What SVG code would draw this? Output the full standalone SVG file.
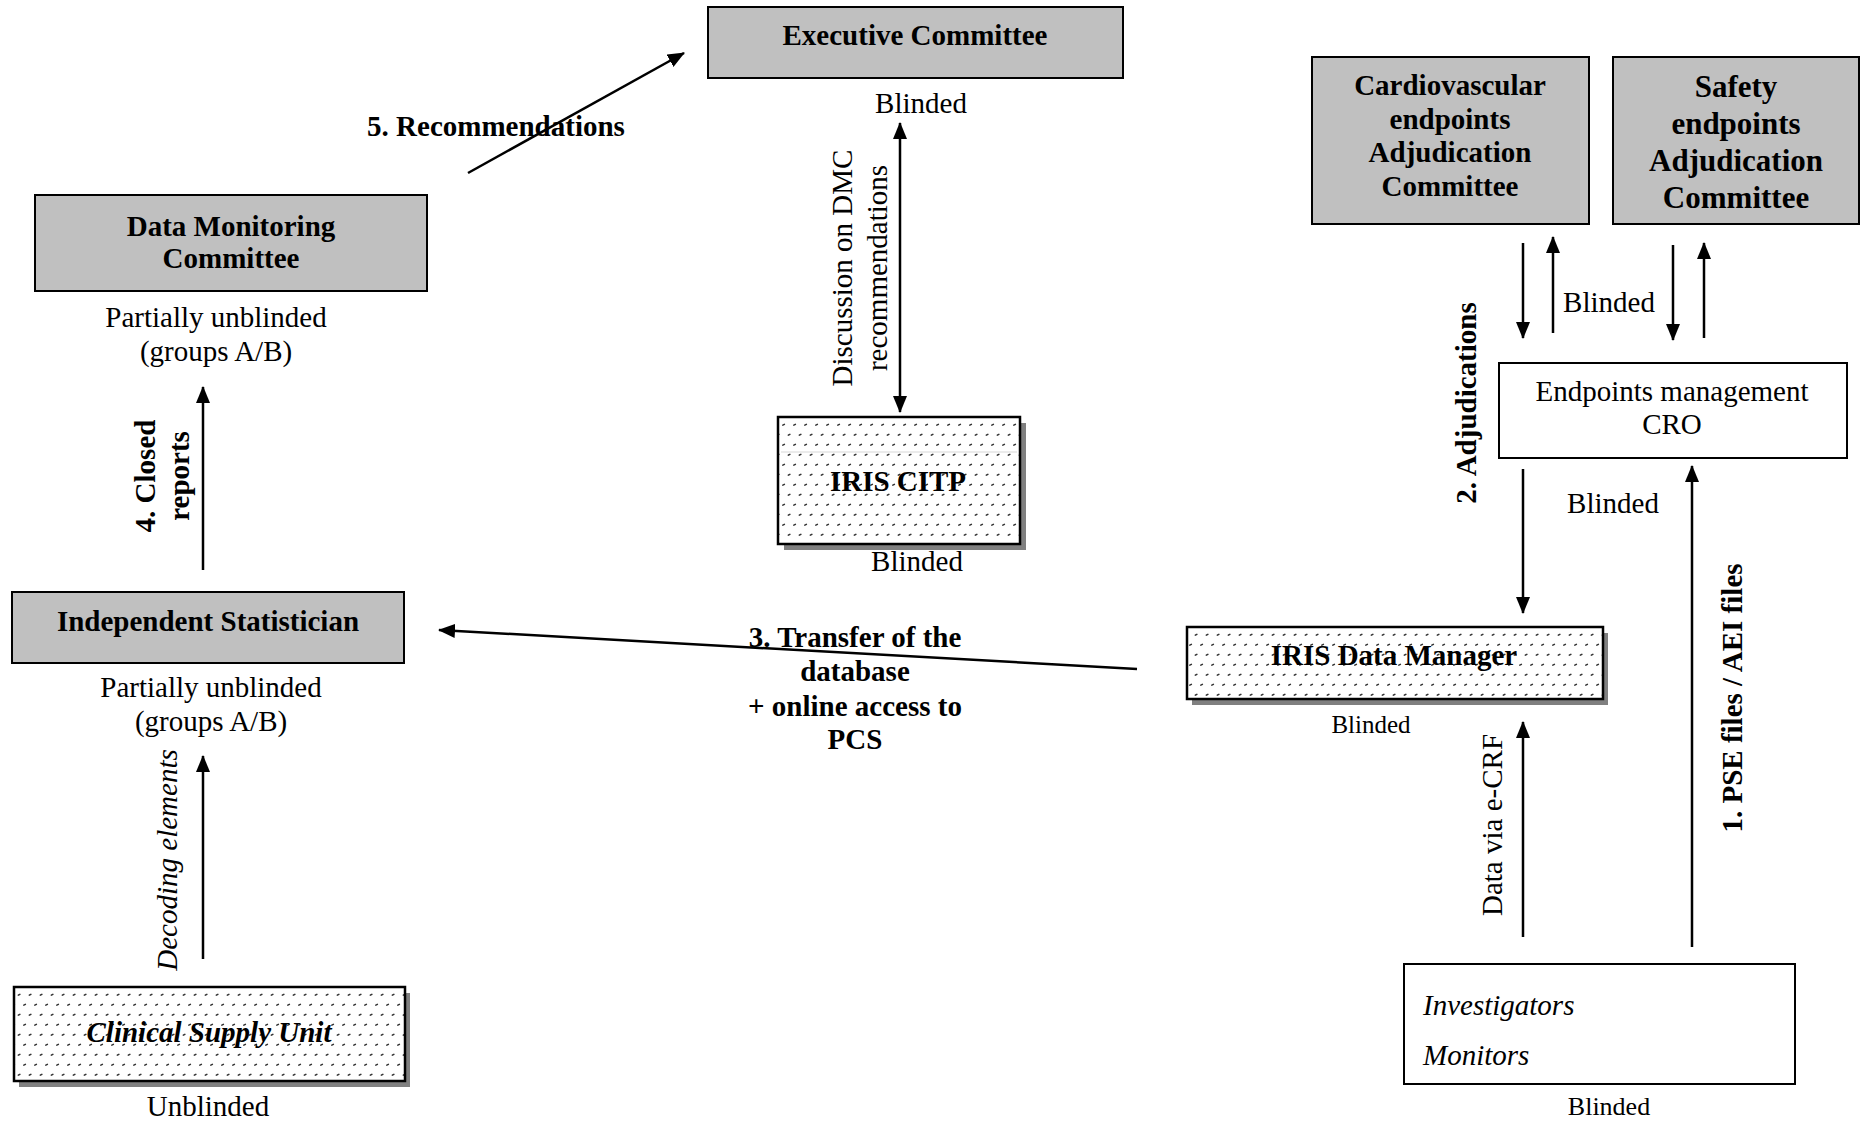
<svg xmlns="http://www.w3.org/2000/svg" width="1861" height="1123" viewBox="0 0 1861 1123">
<style>
text{font-family:"Liberation Serif","Times New Roman",serif;fill:#000}
.b{font-weight:bold;font-size:29px}
.r{font-size:29px}
.i{font-style:italic;font-size:29px}
.m{text-anchor:middle}
.gray{fill:#c0c0c0;stroke:#000;stroke-width:2}
.white{fill:#fff;stroke:#000;stroke-width:2}
.pat{fill:url(#dots);stroke:#000;stroke-width:2.5}
.sh{fill:#808080}
.c{stroke:#000;stroke-width:2.5;fill:none;marker-end:url(#ah)}
</style>
<defs>
<marker id="ah" markerUnits="userSpaceOnUse" markerWidth="18" markerHeight="14" refX="16" refY="7" orient="auto-start-reverse">
<path d="M0,0 L17,7 L0,14 z" fill="#000"/>
</marker>
<pattern id="dots" patternUnits="userSpaceOnUse" width="11" height="20">
<rect width="11" height="20" fill="#fff"/>
<path d="M1.8,5.2 l1.6,-0.9 M7.3,15.2 l1.6,-0.9" stroke="#333" stroke-width="1.5" stroke-linecap="round"/>
</pattern>
</defs>
<rect width="1861" height="1123" fill="#fff"/>

<g id="connectors">
<line class="c" x1="900" y1="123" x2="900" y2="412" style="marker-start:url(#ah)"/>
<line class="c" x1="468" y1="173" x2="684" y2="53"/>
<line class="c" x1="203" y1="570" x2="203" y2="387"/>
<line class="c" x1="203" y1="959" x2="203" y2="756"/>
<line class="c" x1="1137" y1="669" x2="439" y2="630"/>
<line class="c" x1="1523" y1="243" x2="1523" y2="338"/>
<line class="c" x1="1553" y1="333" x2="1553" y2="237"/>
<line class="c" x1="1673" y1="245" x2="1673" y2="340"/>
<line class="c" x1="1704" y1="338" x2="1704" y2="243"/>
<line class="c" x1="1523" y1="469" x2="1523" y2="613"/>
<line class="c" x1="1692" y1="947" x2="1692" y2="466"/>
<line class="c" x1="1523" y1="937" x2="1523" y2="722"/>
<text class="b m" x="496" y="136">5. Recommendations</text>
<text class="r m" transform="translate(852,268) rotate(-90)">Discussion on DMC</text>
<text class="r m" transform="translate(887,268) rotate(-90)">recommendations</text>
<text class="b m" transform="translate(155,476) rotate(-90)">4. Closed</text>
<text class="b m" transform="translate(189,476) rotate(-90)">reports</text>
<text class="i m" transform="translate(177,860) rotate(-90)">Decoding elements</text>
<text class="b m" x="855" y="647">3. Transfer of the</text>
<text class="b m" x="855" y="681">database</text>
<text class="b m" x="855" y="716">+ online access to</text>
<text class="b m" x="855" y="749">PCS</text>
<text class="b m" transform="translate(1476,403) rotate(-90)">2. Adjudications</text>
<text class="r m" x="1609" y="312">Blinded</text>
<text class="r m" x="1613" y="513">Blinded</text>
<text class="r m" transform="translate(1502,825) rotate(-90)">Data via e-CRF</text>
<text class="b m" transform="translate(1742,698) rotate(-90)">1. PSE files / AEI files</text>
</g>

<g id="executive-committee">
<rect class="gray" x="708" y="7" width="415" height="71"/>
<text class="b m" x="915" y="45">Executive Committee</text>
<text class="r m" x="921" y="113">Blinded</text>
</g>

<g id="data-monitoring-committee">
<rect class="gray" x="35" y="195" width="392" height="96"/>
<text class="b m" x="231" y="236">Data Monitoring</text>
<text class="b m" x="231" y="268">Committee</text>
<text class="r m" x="216" y="327">Partially unblinded</text>
<text class="r m" x="216" y="361">(groups A/B)</text>
</g>

<g id="iris-citp">
<rect class="sh" x="784" y="423" width="242" height="127"/>
<rect class="pat" x="778" y="417" width="242" height="127"/>
<line x1="781" y1="452" x2="1017" y2="452" stroke="#e4e4e4" stroke-width="1.5"/>
<text class="b m" x="898" y="491">IRIS CITP</text>
<text class="r m" x="917" y="571">Blinded</text>
</g>

<g id="cardiovascular-committee">
<rect class="gray" x="1312" y="57" width="277" height="167"/>
<text class="b m" x="1450" y="95">Cardiovascular</text>
<text class="b m" x="1450" y="129">endpoints</text>
<text class="b m" x="1450" y="162">Adjudication</text>
<text class="b m" x="1450" y="196">Committee</text>
</g>

<g id="safety-committee">
<rect class="gray" x="1613" y="57" width="246" height="167"/>
<text class="b m" x="1736" y="97" style="font-size:31px">Safety</text>
<text class="b m" x="1736" y="134" style="font-size:31px">endpoints</text>
<text class="b m" x="1736" y="171" style="font-size:31px">Adjudication</text>
<text class="b m" x="1736" y="208" style="font-size:31px">Committee</text>
</g>

<g id="endpoints-cro">
<rect class="white" x="1499" y="363" width="348" height="95"/>
<text class="r m" x="1672" y="401">Endpoints management</text>
<text class="r m" x="1672" y="434">CRO</text>
</g>

<g id="independent-statistician">
<rect class="gray" x="12" y="592" width="392" height="71"/>
<text class="b m" x="208" y="631">Independent Statistician</text>
<text class="r m" x="211" y="697">Partially unblinded</text>
<text class="r m" x="211" y="731">(groups A/B)</text>
</g>

<g id="iris-data-manager">
<rect class="sh" x="1192" y="633" width="416" height="72"/>
<rect class="pat" x="1187" y="627" width="416" height="72"/>
<text class="b m" x="1394" y="665">IRIS Data Manager</text>
<text class="r m" x="1371" y="733" style="font-size:25px">Blinded</text>
</g>

<g id="clinical-supply-unit">
<rect class="sh" x="19" y="993" width="391" height="94"/>
<rect class="pat" x="14" y="987" width="391" height="94"/>
<text class="b m" x="209" y="1042" style="font-style:italic">Clinical Supply Unit</text>
<text class="r m" x="208" y="1116">Unblinded</text>
</g>

<g id="investigators-monitors">
<rect class="white" x="1404" y="964" width="391" height="120"/>
<text class="i" x="1423" y="1015">Investigators</text>
<text class="i" x="1423" y="1065">Monitors</text>
<text class="r m" x="1609" y="1115" style="font-size:26px">Blinded</text>
</g>
</svg>
